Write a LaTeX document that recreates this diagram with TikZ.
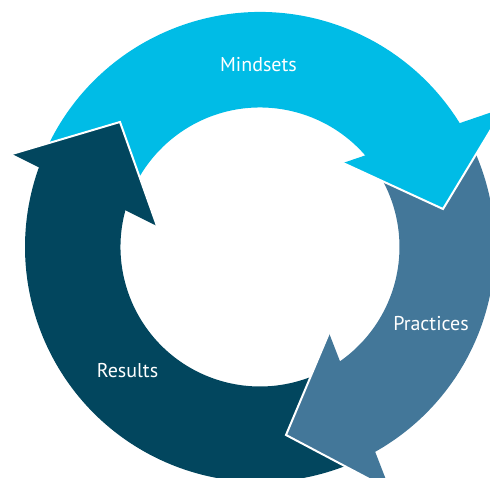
\documentclass[tikz,border=0pt]{standalone}
\usepackage{fontspec}
\setmainfont{PT Sans}
\definecolor{mindc}{HTML}{00BCE6}
\definecolor{pracc}{HTML}{437799}
\definecolor{resuc}{HTML}{02465E}
\begin{document}
\begin{tikzpicture}[x=1pt,y=1pt,
  headedge/.style={white,line width=2pt,line join=miter},
  lbl/.style={text=white,font=\fontsize{20}{24}\selectfont,anchor=base,inner sep=0pt}]
\useasboundingbox (0,0) rectangle (490,478);
\clip (0,0) rectangle (490,478);
\coordinate (C) at (260,231);
\def\rOut{235}
\def\rIn{139.5}
% bands
\fill[mindc] ([shift={(C)}]157:\rOut) arc[start angle=157,end angle=30,radius=\rOut]
  -- ([shift={(C)}]30:\rIn) arc[start angle=30,end angle=157,radius=\rIn] -- cycle;
\fill[pracc] ([shift={(C)}]30:\rOut) arc[start angle=30,end angle=-64.7,radius=\rOut]
  -- ([shift={(C)}]-64.7:\rIn) arc[start angle=-64.7,end angle=30,radius=\rIn] -- cycle;
\fill[resuc] ([shift={(C)}]-64.7:\rOut) arc[start angle=-64.7,end angle=-203,radius=\rOut]
  -- ([shift={(C)}]-203:\rIn) arc[start angle=-203,end angle=-64.7,radius=\rIn] -- cycle;
% arrowheads
\coordinate (rtip) at (120,356); \coordinate (rbo) at (12,324); \coordinate (rbi) at (157,252);
\coordinate (mtip) at (443,269); \coordinate (mbi) at (343,315); \coordinate (mbo) at (504,370);
\coordinate (ptip) at (286,43); \coordinate (pbi) at (329,145); \coordinate (pbo) at (390,-12);
\fill[mindc] (mbo) -- (mtip) -- (mbi) -- cycle;
\draw[headedge] (mbo) -- (mtip) -- (mbi);
\fill[pracc] (pbo) -- (ptip) -- (pbi) -- cycle;
\draw[headedge] (pbo) -- (ptip) -- (pbi);
\fill[resuc] (rbo) -- (rtip) -- (rbi) -- cycle;
\draw[headedge] (rbo) -- (rtip) -- (rbi);
% labels
\node[lbl] (mlab) at (258.5,406) {Mindsets};
\node[lbl] (plab) at (431,147) {Practices};
\node[lbl] (rlab) at (127.5,100) {Results};
\end{tikzpicture}
\end{document}
